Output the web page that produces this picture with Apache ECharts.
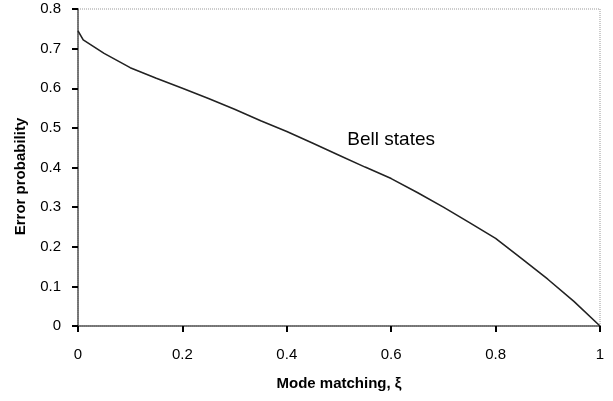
<!DOCTYPE html>
<html>
<head>
<meta charset="utf-8">
<script src="https://cdn.jsdelivr.net/npm/echarts@6/dist/echarts.min.js"></script>
<style>html,body{margin:0;padding:0;background:#fff}#c{width:613px;height:401px}</style>
</head>
<body>
<div id="c"></div>
<script>
const xValues = [0, 0.01, 0.03, 0.05, 0.1, 0.15, 0.2, 0.25, 0.3, 0.35, 0.4, 0.45, 0.5, 0.55, 0.6, 0.65, 0.7, 0.75, 0.8, 0.85, 0.9, 0.95, 1.0];
const bellStates = [0.745, 0.722, 0.705, 0.688, 0.652, 0.625, 0.600, 0.574, 0.547, 0.518, 0.491, 0.461, 0.431, 0.401, 0.372, 0.337, 0.300, 0.261, 0.221, 0.170, 0.118, 0.062, 0.0];
const xTicks = [0, 0.2, 0.4, 0.6, 0.8, 1];
const yTicks = [0, 0.1, 0.2, 0.3, 0.4, 0.5, 0.6, 0.7, 0.8];
const seriesLabel = 'Bell states';
const labelAt = [0.6, 0.47];
const xTitle = 'Mode matching, ξ';
const yTitle = 'Error probability';

const font = '"Liberation Sans", Arial, Helvetica, sans-serif';
const chart = echarts.init(document.getElementById('c'), null, {renderer: 'canvas'});
chart.setOption({
  animation: false,
  backgroundColor: '#fff',
  grid: {left: 78, right: 13, top: 9, bottom: 75, show: true, borderColor: '#999', borderWidth: 1, borderType: 'dotted'},
  xAxis: {
    type: 'value', min: 0, max: 1, interval: 0.2,
    name: xTitle, nameLocation: 'middle', nameGap: 50,
    nameTextStyle: {fontFamily: font, fontWeight: 'bold', fontSize: 15, color: '#000'},
    axisLine: {show: true, onZero: false, lineStyle: {color: '#555', width: 1.5}},
    axisTick: {show: true, inside: false, length: 6, lineStyle: {color: '#000', width: 2}},
    axisLabel: {margin: 21, fontFamily: font, fontSize: 15, color: '#000',
      formatter: v => xTicks.includes(+v.toFixed(1)) ? String(+v.toFixed(1)) : ''},
    splitLine: {show: false}
  },
  yAxis: {
    type: 'value', min: 0, max: 0.8, interval: 0.1,
    name: yTitle, nameLocation: 'middle', nameGap: 50,
    nameTextStyle: {fontFamily: font, fontWeight: 'bold', fontSize: 15, color: '#000', padding: [0, 18, 0, 0]},
    axisLine: {show: true, lineStyle: {color: '#555', width: 1.5}},
    axisTick: {show: true, inside: false, length: 6, lineStyle: {color: '#000', width: 2}},
    axisLabel: {margin: 17, fontFamily: font, fontSize: 15, color: '#000',
      formatter: v => { const r = +v.toFixed(1); return yTicks.includes(r) ? String(r) : ''; }},
    splitLine: {show: false}
  },
  series: [{
    type: 'line', name: seriesLabel,
    data: xValues.map((x, i) => [x, bellStates[i]]),
    showSymbol: false, smooth: false,
    lineStyle: {color: '#222', width: 1.6},
    markPoint: {
      symbol: 'circle', symbolSize: 1,
      itemStyle: {color: 'rgba(0,0,0,0)'},
      data: [{coord: labelAt, value: 1}],
      label: {show: true, position: 'inside', formatter: seriesLabel, fontFamily: font, fontSize: 19, color: '#000'}
    }
  }]
});
</script>
</body>
</html>
